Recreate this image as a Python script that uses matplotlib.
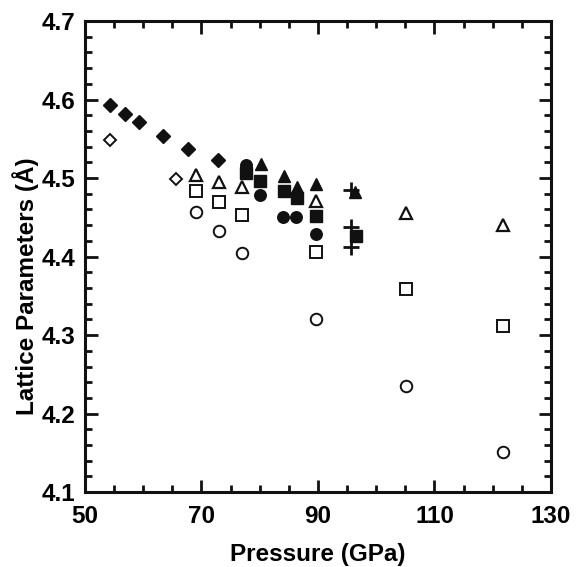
"""
Lattice parameters vs pressure, redrawn as a matplotlib scatter.
"""

import matplotlib

matplotlib.use("Agg")
import matplotlib.pyplot as plt
from matplotlib.ticker import MultipleLocator

# ---------------------------------------------------------------------------
# Data
# ---------------------------------------------------------------------------

diamond_filled_p = [54.3, 56.9, 59.3, 63.4, 67.7, 72.9]
diamond_filled_a = [4.593, 4.582, 4.571, 4.553, 4.537, 4.523]

diamond_open_p = [54.4, 65.7]
diamond_open_a = [4.548, 4.499]

tri_open_p = [69.0, 73.0, 77.0, 89.7, 105.1, 121.7]
tri_open_a = [4.504, 4.495, 4.488, 4.471, 4.456, 4.440]

sq_open_p = [69.0, 73.0, 77.0, 89.7, 105.1, 121.7]
sq_open_a = [4.484, 4.469, 4.453, 4.406, 4.359, 4.312]

circ_open_p = [69.0, 73.0, 77.0, 89.7, 105.1, 121.7]
circ_open_a = [4.457, 4.432, 4.404, 4.321, 4.235, 4.151]

tri_filled_p = [80.2, 84.1, 86.4, 89.7, 96.3]
tri_filled_a = [4.518, 4.502, 4.489, 4.493, 4.482]

sq_filled_p = [77.7, 80.0, 84.1, 86.4, 89.7, 96.5]
sq_filled_a = [4.507, 4.496, 4.484, 4.475, 4.452, 4.426]

circ_filled_p = [77.7, 80.0, 84.0, 86.3, 89.7]
circ_filled_a = [4.516, 4.479, 4.451, 4.451, 4.429]

plus_p = [95.6, 95.6, 95.6]
plus_a = [4.485, 4.438, 4.412]

x_ticks = [50, 70, 90, 110, 130]

# ---------------------------------------------------------------------------
# Plot
# ---------------------------------------------------------------------------

plt.rcParams["font.family"] = ["Liberation Sans", "DejaVu Sans"]
plt.rcParams["font.weight"] = "bold"

fig = plt.figure(figsize=(5.77, 5.67), dpi=100)
ax = fig.add_axes([0.147, 0.132, 0.808, 0.831])

k = "#111111"
ax.plot(diamond_filled_p, diamond_filled_a, "D", ms=7.0, color=k, mec=k, ls="none")
ax.plot(diamond_open_p, diamond_open_a, "D", ms=6.5, mfc="white", mec=k, mew=1.4, ls="none")
ax.plot(circ_open_p, circ_open_a, "o", ms=8.3, mfc="white", mec=k, mew=1.4, ls="none")
ax.plot(sq_open_p, sq_open_a, "s", ms=8.0, mfc="white", mec=k, mew=1.4, ls="none")
ax.plot(tri_open_p, tri_open_a, "^", ms=8.0, mfc="white", mec=k, mew=1.6, ls="none")
ax.plot(circ_filled_p, circ_filled_a, "o", ms=8.3, color=k, ls="none")
ax.plot(tri_filled_p, tri_filled_a, "^", ms=8.5, color=k, ls="none")
ax.plot(plus_p, plus_a, "+", ms=12, color=k, mew=2.0, ls="none")
ax.plot(sq_filled_p, sq_filled_a, "s", ms=8.3, color=k, ls="none")

ax.set_xlim(50, 130)
ax.set_ylim(4.1, 4.7)
ax.set_xticks(x_ticks)
ax.xaxis.set_minor_locator(MultipleLocator(5))
ax.yaxis.set_major_locator(MultipleLocator(0.1))
ax.yaxis.set_minor_locator(MultipleLocator(0.02))
ax.yaxis.set_major_formatter(plt.FormatStrFormatter("%.1f"))

ax.tick_params(which="both", direction="in", top=True, right=True, color=k, width=2.0)
ax.tick_params(which="major", length=9, labelsize=17.5, pad=7)
ax.tick_params(axis="x", which="major", pad=9)
ax.tick_params(which="minor", length=5)
for lab in ax.get_xticklabels() + ax.get_yticklabels():
    lab.set_fontweight("bold")
for sp in ax.spines.values():
    sp.set_linewidth(2.2)
    sp.set_color(k)

ax.set_xlabel("Pressure (GPa)", fontsize=17.5, fontweight="bold", labelpad=11)
fig.text(0.045, 0.496, "Lattice Parameters (Å)", rotation=90, ha="center",
         va="center", fontsize=17.5, fontweight="bold")

fig.savefig("out.png", dpi=100)
